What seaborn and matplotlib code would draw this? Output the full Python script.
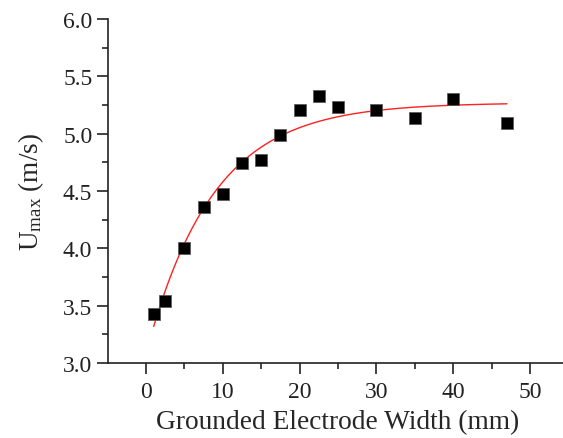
import numpy as np
import pandas as pd
import matplotlib
matplotlib.use("Agg")
import matplotlib.pyplot as plt
import seaborn as sns

# Measured maximum induced velocity versus grounded electrode width
width_mm = [1, 2.5, 5, 7.5, 10, 12.5, 15, 17.5, 20, 22.5, 25, 30, 35, 40, 47]
u_max = [3.43, 3.54, 4.00, 4.36, 4.47, 4.745, 4.77, 4.99, 5.21, 5.33, 5.235, 5.21, 5.14, 5.30, 5.09]

# Exponential saturation fit: U = A - B * exp(-w / t)
fit_A = 5.27
fit_B = 2.19
fit_t = 8.66
fit_range = (1.0, 47.0)

x_ticks = [0, 10, 20, 30, 40, 50]
y_ticks = [3.0, 3.5, 4.0, 4.5, 5.0, 5.5, 6.0]

sns.set_style("ticks")
plt.rcParams["font.family"] = ["Liberation Serif", "DejaVu Serif"]
plt.rcParams["mathtext.fontset"] = "custom"
plt.rcParams["mathtext.rm"] = "Liberation Serif"
plt.rcParams["mathtext.it"] = "Liberation Serif:italic"

points = pd.DataFrame({"width": width_mm, "u": u_max})
w_fit = np.linspace(fit_range[0], fit_range[1], 200)
fit = pd.DataFrame({"width": w_fit, "u": fit_A - fit_B * np.exp(-w_fit / fit_t)})

fig = plt.figure(figsize=(5.63, 4.39), dpi=100)
ax = fig.add_axes([107.6 / 563, 1 - 364 / 439, 460.8 / 563, 344 / 439])

sns.lineplot(data=fit, x="width", y="u", ax=ax, color="#ff2020", linewidth=1.0, zorder=2)
sns.scatterplot(data=points, x="width", y="u", ax=ax, marker="s", s=75,
                color="black", edgecolor="#555555", linewidth=0.5, zorder=3)

ax.set_xlim(-5, 55)
ax.set_ylim(3.0, 6.0)
ax.set_xticks(x_ticks)
ax.set_yticks(y_ticks)
ax.set_xticks([5, 15, 25, 35, 45], minor=True)
ax.set_yticks([3.25, 3.75, 4.25, 4.75, 5.25, 5.75], minor=True)
ax.set_xticklabels([str(v) for v in x_ticks])
ax.set_yticklabels([f"{v:.1f}" for v in y_ticks])

ax.tick_params(which="major", direction="out", length=8, width=1.2, labelsize=17, colors="#222222")
ax.tick_params(axis="x", which="major", pad=5)
ax.tick_params(axis="y", which="major", pad=3)
ax.tick_params(which="minor", direction="out", length=4.5, width=1.2)
for side in ["top", "right"]:
    ax.spines[side].set_visible(False)
for side in ["left", "bottom"]:
    ax.spines[side].set_linewidth(1.2)
    ax.spines[side].set_color("#222222")

ax.set_xlabel("Grounded Electrode Width (mm)", fontsize=19.7, labelpad=5)
ax.set_ylabel(r"U$_{\rm max}$ (m/s)", fontsize=19.5, labelpad=12)

fig.savefig("out.png", dpi=100)
